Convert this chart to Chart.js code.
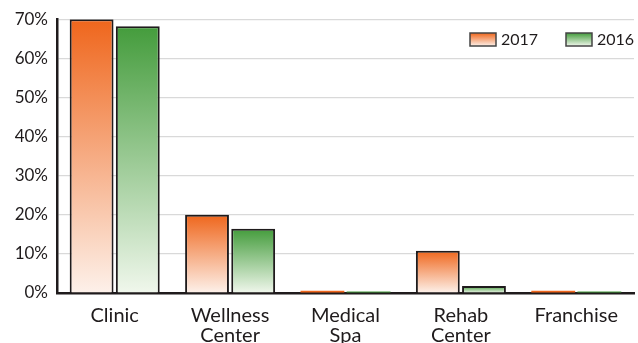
<!DOCTYPE html>
<html>
<head>
<meta charset="utf-8">
<script src="https://cdn.jsdelivr.net/npm/chart.js@4.4.1/dist/chart.umd.min.js"></script>
<style>
  html, body { margin: 0; padding: 0; background: #fff; width: 638px; height: 343px; overflow: hidden; }
  #wrap { width: 638px; height: 343px; overflow: hidden; position: relative; }
  #myChart { position: absolute; left: 0; top: 0; }
</style>
</head>
<body>
<div id="wrap"><canvas id="myChart" width="638" height="359"></canvas></div>
<script>
var categories = [['Clinic'], ['Wellness', 'Center'], ['Medical', 'Spa'], ['Rehab', 'Center'], ['Franchise']];
var values2017 = [70, 20, 0.6, 10.8, 0.6];
var values2016 = [68.2, 16.4, 0.4, 1.8, 0.4];
var yTicks = [0, 10, 20, 30, 40, 50, 60, 70];

var ink = '#1f1b1c';
var orange = ['#ef661c', '#fdf1ea'];
var green = ['#449c3c', '#f0f7ec'];

// each bar fades from its full colour at the top to almost white at the base
function barGradient(colors) {
    return function(context) {
        var chart = context.chart;
        var y = chart.scales.y;
        if (!chart.chartArea || !y) return colors[0];
        var top = y.getPixelForValue(context.raw);
        var base = y.getPixelForValue(0);
        if (base - top < 4) return colors[0];
        var g = chart.ctx.createLinearGradient(0, top, 0, base);
        g.addColorStop(0, colors[0]);
        g.addColorStop(1, colors[1]);
        return g;
    };
}

function barBorder(context) {
    return context.raw < 1 ? 0 : 2;
}

// legend drawn inside the plot, top right
var cornerLegend = {
    id: 'cornerLegend',
    afterDraw: function(chart) {
        var ctx = chart.ctx;
        var items = [
            { label: '2017', colors: orange, x: 470 },
            { label: '2016', colors: green, x: 566 }
        ];
        ctx.save();
        items.forEach(function(item) {
            var g = ctx.createLinearGradient(0, 33, 0, 46);
            g.addColorStop(0, item.colors[0]);
            g.addColorStop(1, item.colors[1]);
            ctx.fillStyle = g;
            ctx.fillRect(item.x, 33, 26, 13);
            ctx.strokeStyle = '#444';
            ctx.lineWidth = 1.5;
            ctx.strokeRect(item.x, 33, 26, 13);
            ctx.fillStyle = ink;
            ctx.font = '16px Lato';
            ctx.textBaseline = 'middle';
            ctx.fillText(item.label, item.x + 31, 40);
        });
        ctx.restore();
    }
};

var ctx = document.getElementById('myChart').getContext('2d');
var myChart = new Chart(ctx, {
    type: 'bar',
    data: {
        labels: categories,
        datasets: [{
            label: '2017',
            data: values2017,
            backgroundColor: barGradient(orange),
            borderColor: ink,
            borderWidth: barBorder,
            borderSkipped: 'bottom',
            barPercentage: 0.95,
            categoryPercentage: 0.8
        },
        {
            label: '2016',
            data: values2016,
            backgroundColor: barGradient(green),
            borderColor: ink,
            borderWidth: barBorder,
            borderSkipped: 'bottom',
            barPercentage: 0.95,
            categoryPercentage: 0.8
        }]
    },
    options: {
        responsive: false,
        animation: false,
        layout: { padding: { top: 12, right: 4, left: 0, bottom: 0 } },
        plugins: {
            legend: { display: false },
            tooltip: { enabled: false }
        },
        scales: {
            x: {
                grid: { display: false, drawTicks: false },
                border: { color: ink, width: 2.5 },
                ticks: {
                    color: ink,
                    font: { family: 'Lato', size: 20, lineHeight: 1.0 },
                    padding: 13,
                    maxRotation: 0,
                    autoSkip: false
                }
            },
            y: {
                min: 0,
                max: 70,
                afterBuildTicks: function(scale) {
                    scale.ticks = yTicks.map(function(v) { return { value: v }; });
                },
                afterFit: function(scale) { scale.width = 57; },
                grid: { color: '#d9d9d9', lineWidth: 1.2, drawTicks: false },
                border: { color: ink, width: 2.5 },
                ticks: {
                    color: ink,
                    font: { family: 'Lato', size: 17 },
                    padding: 9,
                    callback: function(v) { return v + '%'; }
                }
            }
        }
    },
    plugins: [cornerLegend]
});
</script>
</body>
</html>
